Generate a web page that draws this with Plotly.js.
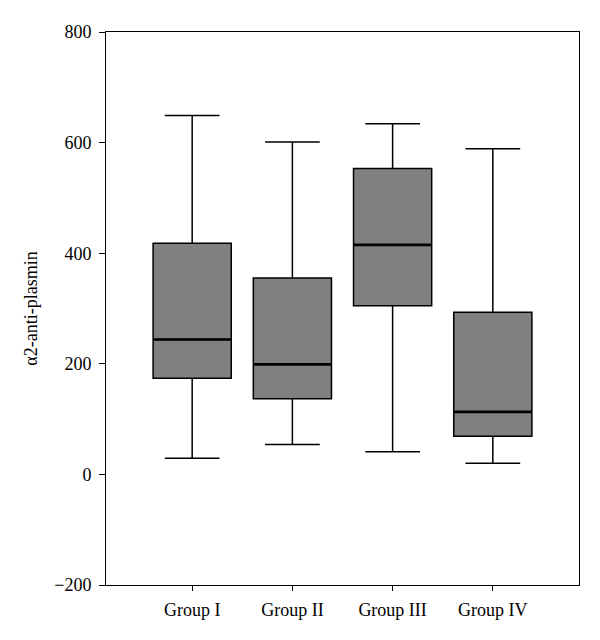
<!DOCTYPE html>
<html>
<head>
<meta charset="utf-8">
<script src="https://cdn.plot.ly/plotly-3.0.1.min.js"></script>
<style>html,body{margin:0;padding:0;background:#fff;}#chart{width:600px;height:640px;}</style>
</head>
<body>
<div id="chart"></div>
<script>
const groups = ["Group I", "Group II", "Group III", "Group IV"];
const lowerWhisker = [29, 54, 41, 20];
const q1Values = [174, 137, 305, 69];
const medianValues = [244, 199, 415, 113];
const q3Values = [418, 355, 553, 293];
const upperWhisker = [649, 601, 634, 589];
const yTicks = [-200, 0, 200, 400, 600, 800];

const boxWidth = 0.78;

const trace = {
  type: "box",
  x: groups,
  q1: q1Values,
  median: medianValues,
  q3: q3Values,
  lowerfence: lowerWhisker,
  upperfence: upperWhisker,
  boxpoints: false,
  width: boxWidth,
  whiskerwidth: 0.7,
  fillcolor: "#808080",
  line: {color: "#000000", width: 1.5},
  hoverinfo: "none",
  showlegend: false
};

// thicker median lines, as in the original
const medianShapes = medianValues.map((m, i) => ({
  type: "line",
  xref: "x",
  yref: "y",
  x0: i - boxWidth / 2,
  x1: i + boxWidth / 2,
  y0: m,
  y1: m,
  line: {color: "#000000", width: 2.6}
}));

const serif = "Liberation Serif, serif";

const layout = {
  width: 600,
  height: 640,
  margin: {l: 106, r: 21, t: 32, b: 55},
  paper_bgcolor: "#ffffff",
  plot_bgcolor: "#ffffff",
  font: {family: serif, color: "#000000", size: 18},
  shapes: medianShapes,
  xaxis: {
    type: "category",
    range: [-0.86, 3.86],
    showgrid: false,
    zeroline: false,
    showline: true,
    linecolor: "#000000",
    linewidth: 1,
    mirror: true,
    ticks: "outside",
    ticklen: 5,
    tickcolor: "#000000",
    ticklabelstandoff: 3,
    tickfont: {family: serif, size: 18, color: "#000000"}
  },
  yaxis: {
    range: [-200, 800],
    tickvals: yTicks,
    showgrid: false,
    zeroline: false,
    showline: true,
    linecolor: "#000000",
    linewidth: 1,
    mirror: true,
    ticks: "outside",
    ticklen: 6,
    tickcolor: "#000000",
    ticklabelstandoff: 4,
    tickfont: {family: serif, size: 18, color: "#000000"},
    title: {text: "α2-anti-plasmin", font: {family: serif, size: 18, color: "#000000"}, standoff: 11}
  }
};

Plotly.newPlot("chart", [trace], layout, {displayModeBar: false, staticPlot: true});
</script>
</body>
</html>
